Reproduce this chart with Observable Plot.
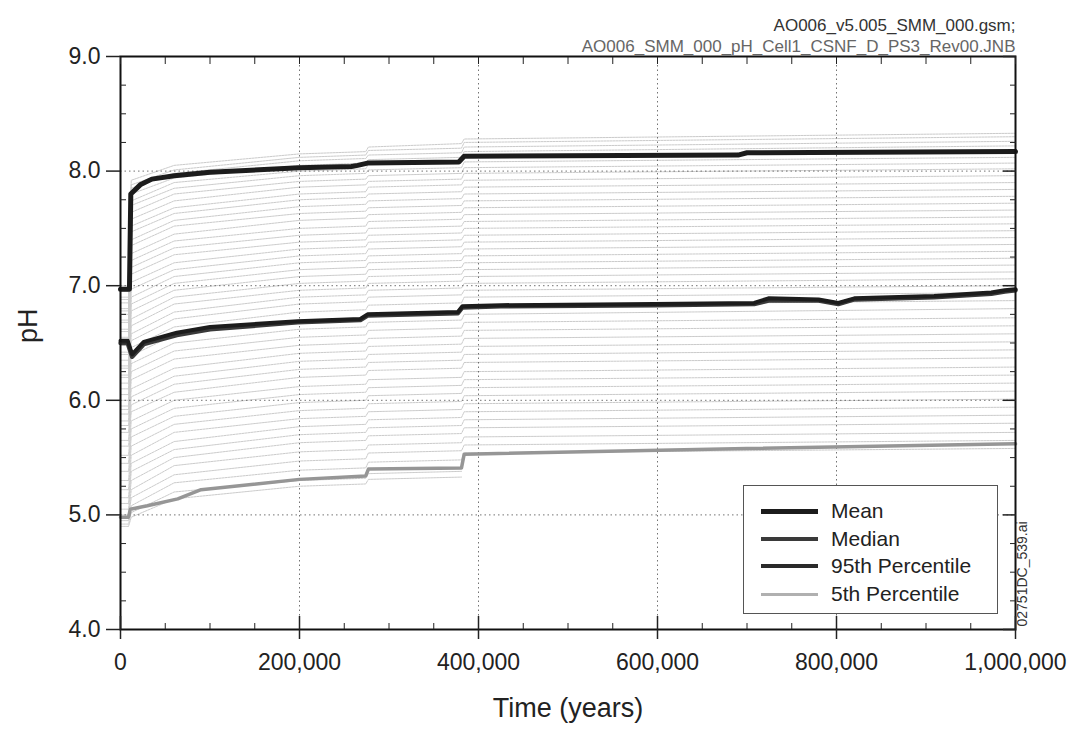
<!DOCTYPE html>
<html>
<head>
<meta charset="utf-8">
<script src="https://cdn.jsdelivr.net/npm/d3@7"></script>
<script src="https://cdn.jsdelivr.net/npm/@observablehq/plot@0.6"></script>
<style>
  body { margin: 0; background: #fff; }
  #wrap { position: relative; width: 1076px; height: 732px; font-family: "Liberation Sans", Arial, sans-serif; }
  #legend { position: absolute; left: 743px; top: 485px; width: 253px; height: 127px; border: 1.5px solid #555; background: #fff; }
  .row { position: absolute; left: 0; height: 28px; display: flex; align-items: center; }
  .sample { margin-left: 17px; width: 57px; }
  .lab { margin-left: 13px; font-size: 21px; color: #222; white-space: nowrap; }
</style>
</head>
<body>
<div id="wrap"></div>
<script>
// ---- data ----
const xMajorTicks = [0, 200000, 400000, 600000, 800000, 1000000];
const xMinorTicks = [50000, 100000, 150000, 250000, 300000, 350000, 450000, 500000, 550000, 650000, 700000, 750000, 850000, 900000, 950000];
const xGridTicks = [200000, 400000, 600000, 800000];
const yMajorTicks = [4, 5, 6, 7, 8, 9];
const yMinorTicks = [4.25, 4.5, 4.75, 5.25, 5.5, 5.75, 6.25, 6.5, 6.75, 7.25, 7.5, 7.75, 8.25, 8.5, 8.75];
const yGridTicks = [5, 6, 7, 8];

// 95th percentile
const p95Times = [0, 10000, 11500, 22000, 35000, 60000, 100000, 200000, 258000, 265000, 276000, 378000, 384000, 690000, 700000, 1000000];
const p95Values = [6.97, 6.97, 7.80, 7.88, 7.93, 7.96, 7.99, 8.03, 8.04, 8.05, 8.07, 8.08, 8.13, 8.14, 8.16, 8.17];

// mean
const meanTimes = [0, 8000, 13000, 26000, 63000, 100000, 198000, 268000, 276000, 377000, 382000, 425000, 596000, 708000, 724000, 780000, 802000, 820000, 909000, 973000, 988000, 1000000];
const meanValues = [6.52, 6.52, 6.40, 6.51, 6.59, 6.64, 6.69, 6.71, 6.75, 6.77, 6.82, 6.83, 6.84, 6.85, 6.89, 6.88, 6.85, 6.89, 6.91, 6.94, 6.96, 6.97];

// median
const medianTimes = [0, 8000, 13000, 26000, 63000, 100000, 198000, 268000, 276000, 377000, 382000, 425000, 596000, 708000, 724000, 780000, 802000, 820000, 909000, 973000, 988000, 1000000];
const medianValues = [6.50, 6.50, 6.38, 6.49, 6.57, 6.62, 6.68, 6.70, 6.74, 6.76, 6.81, 6.82, 6.83, 6.84, 6.87, 6.87, 6.84, 6.88, 6.90, 6.93, 6.95, 6.96];

// 5th percentile
const p5Times = [0, 9000, 11000, 30000, 64000, 90000, 200000, 274000, 277000, 381000, 384000, 700000, 1000000];
const p5Values = [4.98, 4.98, 5.05, 5.08, 5.14, 5.22, 5.31, 5.34, 5.40, 5.41, 5.53, 5.58, 5.62];

// individual realizations (values at runTimes)
const runTimes = [0, 9000, 12000, 60000, 200000, 274000, 277000, 381000, 384000, 1000000];
const runValues = [
  [7.00, 7.00, 7.92, 8.05, 8.15, 8.17, 8.21, 8.24, 8.28, 8.33],
  [6.95, 6.95, 7.88, 8.01, 8.12, 8.14, 8.18, 8.20, 8.25, 8.30],
  [6.90, 6.90, 7.85, 7.98, 8.09, 8.11, 8.14, 8.16, 8.21, 8.26],
  [6.88, 6.88, 7.80, 7.94, 8.05, 8.07, 8.10, 8.12, 8.17, 8.22],
  [6.85, 6.85, 7.74, 7.90, 8.00, 8.02, 8.06, 8.08, 8.13, 8.18],
  [6.80, 6.80, 7.70, 7.85, 7.96, 7.98, 8.01, 8.03, 8.08, 8.12],
  [6.78, 6.78, 7.64, 7.80, 7.91, 7.93, 7.96, 7.98, 8.03, 8.07],
  [6.75, 6.75, 7.58, 7.74, 7.86, 7.88, 7.91, 7.93, 7.98, 8.02],
  [6.70, 6.70, 7.52, 7.68, 7.80, 7.82, 7.86, 7.88, 7.92, 7.96],
  [6.68, 6.68, 7.47, 7.63, 7.75, 7.77, 7.80, 7.82, 7.86, 7.90],
  [6.62, 6.62, 7.40, 7.57, 7.69, 7.71, 7.74, 7.76, 7.80, 7.84],
  [6.60, 6.60, 7.35, 7.52, 7.63, 7.65, 7.68, 7.70, 7.74, 7.78],
  [6.55, 6.55, 7.28, 7.45, 7.57, 7.59, 7.62, 7.64, 7.68, 7.72],
  [6.50, 6.50, 7.22, 7.39, 7.50, 7.52, 7.56, 7.58, 7.62, 7.66],
  [6.48, 6.48, 7.16, 7.33, 7.44, 7.46, 7.50, 7.52, 7.56, 7.60],
  [6.42, 6.42, 7.10, 7.27, 7.38, 7.40, 7.44, 7.46, 7.50, 7.54],
  [6.40, 6.40, 7.03, 7.20, 7.32, 7.34, 7.38, 7.40, 7.44, 7.48],
  [6.35, 6.35, 6.97, 7.14, 7.26, 7.28, 7.32, 7.34, 7.38, 7.42],
  [6.30, 6.30, 6.90, 7.08, 7.20, 7.22, 7.26, 7.28, 7.32, 7.36],
  [6.28, 6.28, 6.84, 7.02, 7.14, 7.16, 7.20, 7.22, 7.26, 7.30],
  [6.22, 6.22, 6.78, 6.96, 7.08, 7.10, 7.14, 7.16, 7.20, 7.24],
  [6.20, 6.20, 6.71, 6.90, 7.02, 7.04, 7.08, 7.10, 7.14, 7.18],
  [6.15, 6.15, 6.65, 6.84, 6.96, 6.98, 7.02, 7.04, 7.08, 7.12],
  [6.10, 6.10, 6.58, 6.77, 6.90, 6.92, 6.96, 6.98, 7.02, 7.06],
  [6.05, 6.05, 6.52, 6.71, 6.84, 6.86, 6.90, 6.92, 6.96, 7.00],
  [6.00, 6.00, 6.46, 6.64, 6.77, 6.79, 6.83, 6.85, 6.90, 6.94],
  [5.95, 5.95, 6.39, 6.57, 6.70, 6.72, 6.76, 6.78, 6.83, 6.87],
  [5.92, 5.92, 6.32, 6.50, 6.62, 6.64, 6.68, 6.70, 6.75, 6.80],
  [5.88, 5.88, 6.25, 6.43, 6.55, 6.57, 6.61, 6.63, 6.68, 6.72],
  [5.82, 5.82, 6.18, 6.36, 6.48, 6.50, 6.54, 6.56, 6.61, 6.65],
  [5.78, 5.78, 6.10, 6.28, 6.41, 6.43, 6.47, 6.49, 6.54, 6.58],
  [5.72, 5.72, 6.03, 6.21, 6.34, 6.36, 6.40, 6.42, 6.47, 6.51],
  [5.65, 5.65, 5.96, 6.14, 6.27, 6.29, 6.33, 6.35, 6.40, 6.44],
  [5.60, 5.60, 5.90, 6.07, 6.20, 6.22, 6.26, 6.28, 6.33, 6.37],
  [5.52, 5.52, 5.82, 6.00, 6.12, 6.14, 6.18, 6.20, 6.25, 6.29],
  [5.45, 5.45, 5.75, 5.93, 6.05, 6.07, 6.11, 6.13, 6.18, 6.22],
  [5.38, 5.38, 5.68, 5.86, 5.98, 6.00, 6.04, 6.06, 6.11, 6.15],
  [5.30, 5.30, 5.60, 5.79, 5.91, 5.93, 5.97, 5.99, 6.04, 6.08],
  [5.22, 5.22, 5.52, 5.72, 5.84, 5.86, 5.90, 5.92, 5.97, 6.01],
  [5.15, 5.15, 5.45, 5.64, 5.77, 5.79, 5.83, 5.85, 5.90, 5.94],
  [5.10, 5.10, 5.38, 5.57, 5.70, 5.72, 5.76, 5.78, 5.83, 5.87],
  [5.05, 5.05, 5.30, 5.50, 5.63, 5.65, 5.69, 5.71, 5.76, 5.80],
  [5.00, 5.00, 5.22, 5.43, 5.55, 5.57, 5.61, 5.63, 5.68, 5.72],
  [4.98, 4.98, 5.15, 5.35, 5.47, 5.49, 5.54, 5.56, 5.61, 5.65],
  [4.95, 4.95, 5.08, 5.28, 5.39, 5.41, 5.46, 5.48, 5.54, 5.58],
  [4.92, 4.92, 5.02, 5.20, 5.30, 5.32, 5.36, 5.38, null, null],
  [4.90, 4.90, 4.98, 5.14, 5.25, 5.27, 5.31, 5.33, null, null]
];

const legendNames = ["Mean", "Median", "95th Percentile", "5th Percentile"];
const headerLine1 = "AO006_v5.005_SMM_000.gsm;";
const headerLine2 = "AO006_SMM_000_pH_Cell1_CSNF_D_PS3_Rev00.JNB";
const sideId = "02751DC_539.ai";
const xTitle = "Time (years)";
const yTitle = "pH";

// ---- build tables ----
const pairs = (ts, vs) => ts.map((t, i) => ({t, pH: vs[i]}));
const runs = runValues.flatMap((vals, r) => runTimes.map((t, j) => ({run: r, t, pH: vals[j]})));
const p95 = pairs(p95Times, p95Values);
const mean = pairs(meanTimes, meanValues);
const median = pairs(medianTimes, medianValues);
const p5 = pairs(p5Times, p5Values);

const font = '"Liberation Sans", Arial, sans-serif';
const gridStyle = {stroke: "#444", strokeOpacity: 0.75, strokeDasharray: "1.5,3", strokeWidth: 1};

const chart = Plot.plot({
  width: 1076,
  height: 732,
  marginLeft: 120,
  marginRight: 61,
  marginTop: 56,
  marginBottom: 103,
  style: {fontFamily: font, background: "#fff", color: "#222", overflow: "visible"},
  x: {domain: [0, 1000000]},
  y: {domain: [4, 9]},
  marks: [
    Plot.line(runs, {x: "t", y: "pH", z: "run", stroke: "#cbcbcb", strokeWidth: 1, strokeDasharray: "2,1"}),
    Plot.gridX(xGridTicks, gridStyle),
    Plot.gridY(yGridTicks, gridStyle),
    Plot.line(p5, {x: "t", y: "pH", stroke: "#969696", strokeWidth: 3.5}),
    Plot.line(median, {x: "t", y: "pH", stroke: "#3a3a3a", strokeWidth: 4.5}),
    Plot.line(mean, {x: "t", y: "pH", stroke: "#1c1c1c", strokeWidth: 4}),
    Plot.line(p95, {x: "t", y: "pH", stroke: "#1c1c1c", strokeWidth: 5}),
    Plot.frame({stroke: "#111", strokeWidth: 2}),
    // bottom axis
    Plot.axisX(xMajorTicks, {anchor: "bottom", tickSize: 0, tickPadding: 24, tickFormat: d3.format(","), fontSize: 23, label: null}),
    Plot.axisX(xMajorTicks, {anchor: "bottom", tickSize: 23, insetBottom: 13, fill: "none", strokeWidth: 1.5, label: null}),
    Plot.axisX(xMinorTicks, {anchor: "bottom", tickSize: 6, insetBottom: 6, fill: "none", label: null}),
    // top axis (inward ticks)
    Plot.axisX([...xMinorTicks, ...xMajorTicks], {anchor: "top", tickSize: 7, insetTop: 7, fill: "none", label: null}),
    // left axis
    Plot.axisY(yMajorTicks, {anchor: "left", tickSize: 0, tickPadding: 20, tickFormat: d3.format(".1f"), fontSize: 23, label: null}),
    Plot.axisY(yMajorTicks, {anchor: "left", tickSize: 14, fill: "none", strokeWidth: 1.5, label: null}),
    Plot.axisY(yMinorTicks, {anchor: "left", tickSize: 6, insetLeft: 6, fill: "none", label: null}),
    // right axis (inward ticks)
    Plot.axisY(yMajorTicks, {anchor: "right", tickSize: 13, insetRight: 13, fill: "none", strokeWidth: 1.5, label: null}),
    Plot.axisY(yMinorTicks, {anchor: "right", tickSize: 6, insetRight: 6, fill: "none", label: null}),
    // titles
    Plot.text([xTitle], {frameAnchor: "bottom", dy: 87, fontSize: 27, fill: "#222"}),
    Plot.text([yTitle], {frameAnchor: "left", dx: -92, rotate: -90, fontSize: 27, fill: "#222"}),
    Plot.text([headerLine1], {frameAnchor: "top-right", textAnchor: "end", dy: -38, fontSize: 17, fill: "#333"}),
    Plot.text([headerLine2], {frameAnchor: "top-right", textAnchor: "end", dy: -17, fontSize: 17, fill: "#666"}),
    Plot.text([sideId], {frameAnchor: "bottom-right", textAnchor: "start", rotate: -90, dx: 11, dy: -3, fontSize: 14, fill: "#333"})
  ]
});

const wrap = document.getElementById("wrap");
wrap.appendChild(chart);

// legend
const legendStyles = [
  {color: "#1c1c1c", h: 5},
  {color: "#3a3a3a", h: 3.5},
  {color: "#2a2a2a", h: 4},
  {color: "#b0b0b0", h: 3}
];
const legendRowCenters = [25, 53, 80, 108];
const legend = document.createElement("div");
legend.id = "legend";
legendNames.forEach((name, i) => {
  const row = document.createElement("div");
  row.className = "row";
  row.style.top = (legendRowCenters[i] - 14) + "px";
  const s = document.createElement("div");
  s.className = "sample";
  s.style.height = legendStyles[i].h + "px";
  s.style.background = legendStyles[i].color;
  const t = document.createElement("span");
  t.className = "lab";
  t.textContent = name;
  row.appendChild(s);
  row.appendChild(t);
  legend.appendChild(row);
});
wrap.appendChild(legend);
</script>
</body>
</html>
